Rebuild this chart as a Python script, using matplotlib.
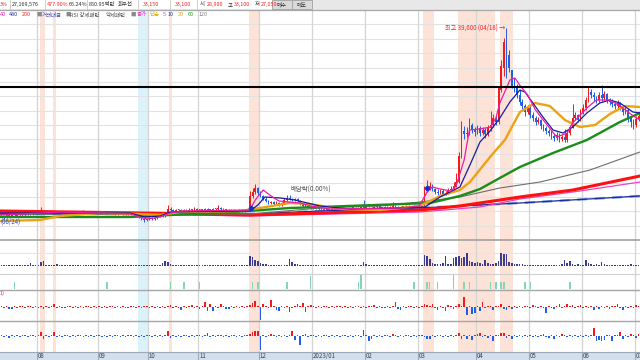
import numpy as np
import matplotlib
matplotlib.use("Agg")
import matplotlib.pyplot as plt
from matplotlib.patches import Rectangle

plt.rcParams['font.family'] = ['Noto Sans CJK KR', 'DejaVu Sans']

# ---------------- data (daily candles, price in won) ----------------
open_seg = [
    [2200,2000,1800,2200,2000,2400,2000,2200,2400,2200,2400,2600,2400,2600,2800],
    [2600,3000,2800],
    [2800,2800,2600,2800,2600,2800,2800,2600,2800,2600,2800,2800],
    [2600,2800,2800,2600,2800,2600,2600,2800,2600,2600,2800,2600],
    [2600,2600,2400,2600,2600,2400,2400,2600,2400,2400],
    [2200,1800,1400,1200],
    [1400,1600,1400,1600,2000,2200],
    [2000,2400],
    [3400,3200,3000,3200,3200,3000,3200,3000,3200,3200,3400,3200],
    [3200,3200,3400,3200,3200,3400,3400,3600,3400,3200,3200,3000],
    [3200,3000,3000,3200,3000,3200],
    [3200,6000,6800,7600],
    [6600,6000,5400,5000,4600,4800,4400,4600,4200,4600,5200,5600,5400],
    [5200,5400,5000,4400,4000,4000,3800,3600],
    [3600,3600,3400,3400,3200,3400,3200,3200,3000,3200,3400,3200],
    [3400,3400,3600,3600,3400,3600,3800,3600,3600,3400,3600,3800,4000,3600,3600,3800,3600,3800,4000,3800,3600,3800,3800,4000,3800,3800,4000],
    [4000,3800,4000,7000,7600,8000],
    [7400,6800,6600,7000,6400,6600,7200,7400,8000],
    [8800,14000,19000,18400,18600,20200],
    [19200,18800,19600,18600,19200,18400,19600,20200,21600,20800],
    [27200,31600,37200,34200,31200],
    [28000,27600,26200,24800,24000,22800,23600],
    [22200,21600,20800,21200,20000,19600,19000,18600,18000,17600,18200,17400,17800,17200],
    [18600,19800,21600,22200,21200,22800],
    [23600,25200,26800,26200,25800,25200,26200,25600,26400,25200],
    [24800,24400,24000,24600,23800,22800,23200,21600,20800,20200,21400],
]
close_seg = [
    [2000,1800,2200,2000,2400,2200,2200,2400,2200,2400,2600,2400,2600,2800,2600],
    [3200,2800,2800],
    [2800,2600,2800,2600,2800,2800,2600,2800,2600,2800,2800,2600],
    [2800,2800,2600,2800,2600,2600,2800,2600,2600,2800,2600,2600],
    [2600,2400,2600,2600,2400,2400,2600,2400,2400,2200],
    [1800,1400,1200,1400],
    [1600,1400,1600,2000,2200,2000],
    [2400,3400],
    [3200,3000,3200,3200,3000,3200,3000,3200,3200,3400,3200,3200],
    [3200,3400,3200,3200,3400,3400,3600,3400,3200,3200,3000,3200],
    [3000,3000,3200,3000,3200,3200],
    [6000,6800,7600,6600],
    [6000,5400,5000,4600,4800,4400,4600,4200,4600,5200,5600,5400,5200],
    [5400,5000,4400,4000,4000,3800,3600,3600],
    [3600,3400,3400,3200,3400,3200,3200,3000,3200,3400,3200,3400],
    [3400,3600,3600,3400,3600,3800,3600,3600,3400,3600,3800,4000,3600,3600,3800,3600,3800,4000,3800,3600,3800,3800,4000,3800,3800,4000,3800],
    [3800,4000,7000,7600,8000,7400],
    [6800,6600,7000,6400,6600,7200,7400,8000,8800],
    [14000,19000,18400,18600,20200,19200],
    [18800,19600,18600,19200,18400,19600,20200,21600,20800,27600],
    [32000,36800,30800,31600,28000],
    [27600,26200,24800,24000,22800,23600,22200],
    [21600,20800,21200,20000,19600,19000,18600,18000,17600,18200,17400,17800,17200,18600],
    [19800,21600,22200,21200,22800,23600],
    [25200,26800,26200,25800,25200,26200,25600,26400,25200,24800],
    [24400,24000,24600,23800,22800,23200,21600,20800,20200,21400,22000],
]
high_seg = [
    [2400,2200,2400,2400,2600,2600,2400,2600,2600,2600,2800,2800,2800,3000,3000],
    [3800,3200,3000],
    [3000,3000,3000,3000,3000,3000,3000,3000,3000,3000,3000,3000],
    [3000,3200,3000,3000,3000,2800,3000,3000,2800,3000,3000,2800],
    [2800,2800,2800,2800,2800,2600,2800,2800,2600,2600],
    [2400,2000,1600,1600],
    [1800,1800,1800,2200,2400,2400],
    [2600,4200],
    [3800,3400,3400,3400,3400,3400,3400,3600,3400,3800,3600,3400],
    [3400,3600,3600,3400,3600,3600,4200,3800,3600,3400,3400,3400],
    [3400,3200,3400,3400,3400,3400],
    [7000,7600,8400,7800],
    [7000,6200,5800,5200,5000,5000,5000,4800,4800,5600,6200,6200,5600],
    [5600,5600,5200,4600,4800,4200,4000,3800],
    [3800,3800,3600,3600,3600,3600,3400,3400,3400,3600,3600,3600],
    [3600,3800,3800,3800,3800,4000,5200,3800,3800,3800,4000,4200,4200,3800,4000,4000,4000,4800,4200,4000,4000,4000,4200,4200,4000,4200,4200],
    [4200,4200,8000,9200,8800,8400],
    [7600,7400,7400,7400,7000,7600,8000,8800,10600],
    [14800,21000,20000,19800,21600,20600],
    [19800,20200,20000,19800,19600,20200,23000,22400,22000,28000],
    [33200,37600,39600,35200,31200],
    [29600,28400,27200,25400,24400,24200,24000],
    [22800,22000,21800,21400,20400,20000,19400,19200,18400,18800,18600,18200,19400,19200],
    [20200,24400,22800,22400,23400,24400],
    [25800,27800,27400,26800,26000,26800,28200,27000,26600,25600],
    [25400,24800,25200,24800,24200,23800,23600,22000,21400,22000,22600],
]
low_seg = [
    [1800,1000,1600,1800,1800,2000,1800,2000,2000,2000,2200,2200,2200,2400,2400],
    [2400,2600,2600],
    [2600,2400,2400,2400,2400,2600,2400,2400,2400,2400,2600,2400],
    [2400,2600,2400,2400,2400,2400,2400,2400,2400,2400,2400,2400],
    [2400,2200,2200,2400,2200,2200,2200,2200,2200,2000],
    [1600,1200,800,1000],
    [1200,1200,1200,1400,1800,1800],
    [1800,2200],
    [3000,2800,2800,3000,2800,2800,2800,2800,3000,3000,3000,3000],
    [3000,3000,3000,3000,3000,3200,3200,3200,3000,3000,2800,2800],
    [2800,2800,2800,2800,2800,3000],
    [3000,5600,6400,6200],
    [5800,5200,4800,4400,4400,4200,4200,4000,4000,4400,5000,5200,5000],
    [5000,4800,4200,3800,3800,3600,3400,3400],
    [3400,3200,3200,3000,3000,3000,3000,2800,2800,3000,3000,3000],
    [3200,3200,3400,3200,3200,3400,3400,3400,3200,3200,3400,3600,3400,3400,3400,3400,3400,3600,3600,3400,3400,3600,3600,3600,3600,3600,3600],
    [3600,3600,3800,6800,7200,7000],
    [6400,6200,6400,6200,6200,6400,7000,7200,7800],
    [8600,13600,17400,17800,18200,18600],
    [18000,18400,18000,18200,17600,18000,19000,19800,20200,20400],
    [26800,30000,29600,30800,27600],
    [26800,25600,24200,23400,22000,22400,21600],
    [21000,20200,20400,19400,19000,18400,18000,17400,17000,17200,16800,17000,16800,16800],
    [18200,19600,21200,20800,21000,22400],
    [23200,24800,25600,25000,24600,24800,25000,25200,24600,24200],
    [23800,23400,23600,23200,22200,22400,20800,19800,19400,19800,21000],
]
volume_seg = [
    [400,500,400,300,400,400,300,400,500,400,400,1200,500,400,400],
    [1600,2000,600],
    [500,400,400,700,400,400,300,400,400,300,400,400],
    [400,300,400,400,300,400,500,400,300,400,400,300],
    [400,400,300,400,400,500,400,300,400,400],
    [400,500,400,400],
    [300,400,400,500,600,1200],
    [2000,1600],
    [800,600,500,400,400,500,400,400,600,400,400,500],
    [400,500,400,400,600,400,400,500,400,400,500,400],
    [400,400,500,400,400,400],
    [4000,3600,2400,2000],
    [1200,800,700,600,500,600,500,400,500,400,600,2800,1600],
    [1000,700,600,500,500,400,500,400],
    [400,500,400,400,500,400,400,500,400,400,500,400],
    [400,400,500,400,400,600,1600,800,500,400,400,500,400,400,400,500,400,400,500,400,400,400,500,400,400,500,600],
    [500,600,4400,4000,2800,1200],
    [800,700,1000,1200,4000,1000,800,3200,3600],
    [4000,3200,3600,5200,2000,1600],
    [1200,1600,1200,1000,2400,1200,1000,800,1200,2000],
    [5200,4800,4800,1600,1200],
    [1000,800,800,700,600,600,500],
    [600,500,500,600,500,500,600,400,500,500,600,700,2400,1200],
    [2000,800,600,700,500,600],
    [2400,1200,800,600,700,600,1600,700,600,500],
    [600,500,500,400,500,600,500,700,600,500,600],
]
open_ = np.array(sum(open_seg, []), float)
close = np.array(sum(close_seg, []), float)
high = np.array(sum(high_seg, []), float)
low = np.array(sum(low_seg, []), float)
volume = np.array(sum(volume_seg, []), float)

# pattern panel (RSI pattern signals)
pattern_days = [5, 40, 64, 69, 75, 95, 97, 108, 117, 135, 136, 156, 161, 162, 165, 171, 175, 177, 185, 187, 189, 190, 198, 200, 215]
pattern_vals = [1, 1, 1, 1, 1, 1, 1, 1, 1.85, 1, 2.4, 1, 1, 1, 1, 2.4, 1, 1, 1, 1, 1, 1, 1, 1, 1]

# lower oscillator panels (net values)
osc1 = [1,-1,1,-2,-2,1,-1,1,1,-1,
        1,1,-1,1,-1,1,-2,1,-1,1,
        3,-1,1,-1,-1,1,1,-1,1,-1,
        1,-1,1,1,-1,1,-1,1,-1,1,
        -1,1,1,-1,1,-1,1,-1,-1,1,
        1,-1,1,-1,1,1,-1,1,-1,1,
        -1,1,-1,1,2,-1,1,-1,-3,1,
        -1,1,2,-1,1,-2,1,5,-4,3,
        -4,1,-1,3,1,-2,-2,1,-1,1,
        -1,1,-1,1,2,4,6,1,-13,3,
        1,-1,7,1,-3,-4,1,-1,1,-5,
        -1,1,3,1,4,-5,1,2,1,-1,
        1,-1,1,1,-1,1,-1,1,1,-1,
        1,-1,1,-1,1,1,-1,1,-1,1,
        1,2,-1,1,-1,-1,1,-1,1,5,
        -2,-3,1,-1,1,1,-1,1,-1,1,
        3,2,1,3,-1,-3,1,-1,-4,2,
        1,-2,1,3,1,10,-8,1,-7,-6,
        1,-4,5,-1,1,1,-3,1,1,3,
        -2,-3,1,-2,1,-1,1,-1,1,1,
        -1,2,1,-1,1,-1,-6,1,-1,-2,
        1,3,-1,1,3,1,2,-1,1,2,
        -1,1,-1,1,-3,1,-2,1,-1,1,
        -2,1,1,3,-1,-3,1,-1,1,-1,
        2,1]
osc2 = [1,-1,1,-2,1,-1,1,-1,1,1,
        -1,1,1,-1,1,4,-3,1,-1,1,
        4,-1,1,-1,1,1,-1,1,-1,1,
        1,-1,1,-1,1,-1,1,1,-1,1,
        -1,1,-1,1,1,-1,1,-1,1,1,
        -1,1,-1,1,-1,1,1,-1,1,-1,
        1,-1,1,5,-2,1,-1,1,-1,1,
        1,-1,1,-1,1,1,-1,1,3,-1,
        1,-1,1,1,-1,1,-1,1,1,-1,
        1,-1,1,1,2,4,5,5,-14,1,
        -1,1,2,1,-1,1,-1,1,-1,1,
        5,-4,1,-9,1,2,-1,1,1,-1,
        1,-1,1,1,-1,1,-1,1,-1,1,
        1,-1,1,-1,1,1,-1,6,1,-5,
        -3,1,-1,1,-1,1,1,-1,2,1,
        -1,1,-1,1,1,-1,1,-1,1,1,
        -1,-3,-3,1,-1,1,1,-1,1,-1,
        1,-1,1,3,-3,1,-3,1,-4,1,
        2,3,-1,1,-2,1,-5,1,1,3,
        3,-2,1,-3,1,-1,1,-1,1,-1,
        1,-1,1,-1,1,2,-1,-2,1,-3,
        1,-1,2,1,-1,1,-1,1,-1,1,
        -1,1,-1,1,8,-5,-4,-5,-4,1,
        1,-5,1,1,4,-3,1,-1,2,1,
        -2,2]

# moving-average lines (day index, price)
ma5_x = [-0.5, 15, 22, 49, 52, 55, 60, 64, 68, 94, 96, 99, 102, 105, 109, 113, 117, 124, 151, 158, 161, 163, 166, 170, 172, 173, 175, 177, 181, 185, 187, 188.5, 191, 192.3, 194.2, 196, 199, 202, 205.5, 210, 214, 216, 221.4, 225, 230, 234, 239, 241.5]
ma5_y = [2200, 2600, 2800, 2400, 1800, 1400, 1800, 2600, 3000, 3200, 5200, 7200, 6000, 5000, 4800, 4600, 4000, 3400, 3600, 4000, 6800, 7800, 7400, 7000, 8000, 9800, 13200, 19200, 19400, 19800, 21600, 24600, 27600, 29200, 29600, 28200, 26200, 23200, 20800, 17800, 18600, 20600, 23600, 25200, 25200, 24000, 22000, 21200]
ma10_x = [-0.5, 48.7, 54.3, 60, 63.8, 94, 97, 99.7, 105.4, 111, 120.5, 131.8, 150.7, 160.2, 165.9, 173.4, 177.2, 181, 184.8, 188.5, 192.3, 196.1, 198, 201, 204.8, 208.6, 212.4, 216.1, 221.4, 226.3, 230.1, 233.9, 238.8, 241.5]
ma10_y = [2600, 2600, 1800, 2000, 2800, 3000, 4200, 5800, 5600, 5200, 4000, 3400, 3600, 3800, 5800, 7800, 12200, 16800, 19000, 21600, 24800, 27200, 26800, 24600, 21800, 19200, 18600, 19800, 22600, 24600, 25200, 24600, 22800, 22600]
ma20_x = [-0.5, 14.6, 22.2, 37.3, 52.4, 60, 67.6, 90.2, 97.8, 109.1, 116.7, 128, 143.2, 158.3, 165.9, 173.4, 177.2, 184.8, 190.4, 196.1, 201.8, 207.4, 213.1, 218.8, 224.5, 230.1, 235.8, 241.5]
ma20_y = [1000, 1200, 2000, 2600, 2400, 2200, 2800, 3000, 3600, 4600, 4400, 3400, 3200, 4000, 6000, 7200, 8800, 13800, 17200, 22800, 24600, 24000, 21200, 19800, 20200, 22400, 24000, 23800]
ma60_x = [-0.5, 48.7, 63.8, 82.7, 109.1, 120.5, 162.1, 173.4, 181, 188.5, 196.1, 208.6, 221.4, 233.9, 241.5]
ma60_y = [1800, 1800, 2200, 2600, 3600, 3800, 4600, 6000, 7400, 9600, 11800, 14600, 17200, 20800, 22600]
ma120_x = [-0.5, 56.2, 94, 120.5, 143.2, 158.3, 173.4, 188.5, 203.7, 222.6, 241.5]
ma120_y = [2400, 2400, 2400, 3600, 4000, 4800, 5800, 7600, 8800, 11200, 14800]
ma200_x = [-0.5, 52.4, 94, 120.5, 158.3, 173.4, 188.5, 196.1, 216.1, 241.5]
ma200_y = [3000, 2600, 2200, 2600, 3200, 4000, 5200, 5800, 7200, 10000]
ma240_x = [-0.5, 94, 158.3, 181, 196.1, 218.8, 241.5]
ma240_y = [2800, 2000, 2800, 3800, 5400, 7000, 8800]
ma480_x = [-0.5, 94, 120.5, 158.3, 196.1, 241.5]
ma480_y = [2400, 2400, 3000, 3600, 4600, 6000]

level_price = 27800
signal_days = [94.4, 161]
signal_prices = [3600, 7600]

month_start = [14, 37, 56, 75, 98, 118, 138, 158, 180, 200, 220, 240]
month_labels = ["08", "09", "10", "11", "12", "2023/01", "02", "03", "04", "05", "06", "07"]
salmon_spans = [(15, 16), (20, 20), (64, 64), (94, 97), (160, 163), (173, 186), (189, 193)]
cyan_spans = [(52, 55)]

# ---------------- figure ----------------
W, H = 640, 360
fig = plt.figure(figsize=(6.4, 3.6), dpi=100)
fig.patch.set_facecolor('white')
XL = (-0.5, 241.5)

def add_ax(y0, y1, x0=0, x1=640):
    a = fig.add_axes([x0 / W, 1 - y1 / H, (x1 - x0) / W, (y1 - y0) / H])
    a.set_facecolor('none')
    a.set_axis_off()
    a.set_xlim(*XL)
    return a

RED = '#f01c1c'
BLUE = '#1f5ee8'

# background: shading + grid
bg = add_ax(10, 352)
bg.set_ylim(352, 10)
for a, b in salmon_spans:
    bg.axvspan(a - 0.5, b + 0.5, color='#fde2d8', lw=0)
for a, b in cyan_spans:
    bg.axvspan(a - 0.5, b + 0.5, color='#dcf2fa', lw=0)
for k in range(1, 16):
    bg.axhline(10 + k * 14.375, color='#e2e2e2', lw=0.8)
bg.axhline(253, color='#e6e6e6', lw=0.8)
for m in month_start:
    bg.axvline(m - 0.5, color='#d4d4d4', lw=0.9)

x = np.arange(len(close))

# main price panel
ax = add_ax(10, 240)
ax.set_ylim(-2800, 43200)
up = close >= open_
cols = np.where(up, RED, BLUE)
ax.vlines(x, low, high, colors=cols, lw=0.7, zorder=2)
body_lo = np.minimum(open_, close)
body_h = np.maximum(np.abs(close - open_), 150)
ax.bar(x, body_h, bottom=body_lo, width=0.62, color=cols, lw=0, zorder=2)

ax.plot(ma480_x, ma480_y, color='#7f9fe6', lw=1.8, dashes=(4, 3), zorder=3)
ax.plot(ma480_x, ma480_y, color='#1a2a9a', lw=0.9, zorder=3)
ax.plot(ma240_x, ma240_y, color='#f040c0', lw=0.9, zorder=3)
ax.plot(ma200_x, ma200_y, color='#ff1010', lw=2.2, zorder=3)
ax.plot(ma120_x, ma120_y, color='#6e6e6e', lw=0.8, zorder=3)
ax.plot(ma60_x, ma60_y, color='#1a8c1a', lw=1.7, zorder=3)
ax.plot(ma20_x, ma20_y, color='#eda212', lw=1.7, zorder=3)
ax.plot(ma10_x, ma10_y, color='#1a1aa0', lw=0.9, zorder=4)
ax.plot(ma5_x, ma5_y, color='#f01aa8', lw=0.9, zorder=4)
ax.axhline(level_price, color='black', lw=1.5, zorder=5)
ax.plot(signal_days, signal_prices, 'P', color='#1030d0', ms=3, zorder=5)

ax.text(190.4, 39600, "최고 39,600 (04/18) →", color='#ff2020', fontsize=4.4,
        ha='right', va='center', zorder=6)
ax.text(109.3, 7200, "배당락(0.00%)", color='#505050', fontsize=4.6,
        ha='left', va='center', zorder=6)
ax.text(-0.4, 800, "(06/24)", color='#3050d0', fontsize=4.4,
        ha='left', va='center', zorder=6)

# volume panel
av = add_ax(240, 274)
av.set_ylim(-3200, 10400)
av.bar(x, volume, width=0.6, color='#3b3b8f', lw=0)

# pattern panel
ap = add_ax(274, 290)
ap.set_ylim(-0.143, 2.143)
ap.bar(pattern_days, pattern_vals, width=0.55, color='#86d3b5', lw=0)

# oscillator panels
o1 = np.array(osc1, float)
o2 = np.array(osc2, float)
a3 = add_ax(290, 321)
a3.set_ylim(-14, 17)
a3.bar(x, o1, width=0.6, color=np.where(o1 > 0, RED, BLUE), lw=0)
a4 = add_ax(321, 352)
a4.set_ylim(-16, 15)
a4.bar(x, o2, width=0.6, color=np.where(o2 > 0, RED, BLUE), lw=0)

# x-axis strip
ax_x = fig.add_axes([0, 0, 1, 8 / H])
ax_x.set_xlim(*XL)
ax_x.set_ylim(0, 1)
ax_x.set_facecolor('#d3dfec')
for s in ax_x.spines.values():
    s.set_visible(False)
ax_x.set_xticks([])
ax_x.set_yticks([])
for m, lab in zip(month_start, month_labels):
    ax_x.axvline(m - 0.5, color='#9aa8b8', lw=0.8)
    ax_x.text(m - 0.2, 0.45, lab, fontsize=4.4, color='#404040', ha='left', va='center')

# overlay: header, legend, separators
ov = fig.add_axes([0, 0, 1, 1])
ov.set_xlim(0, 640)
ov.set_ylim(360, 0)
ov.set_axis_off()
ov.set_facecolor('none')
ov.add_patch(Rectangle((0, 0), 640, 9.5, fc='#e8e8e8', ec='none'))
ov.add_patch(Rectangle((0, 0), 272, 9.2, fc='white', ec='none'))
ov.add_patch(Rectangle((272, 0), 20, 9.2, fc='#dadada', ec='#a0a0a0', lw=0.6))
ov.add_patch(Rectangle((292, 0), 20, 9.2, fc='#dadada', ec='#a0a0a0', lw=0.6))
ov.plot([0, 640], [9.7, 9.7], color='#a8a8a8', lw=0.9)
for sx in [10, 45, 87, 138, 170, 197]:
    ov.plot([sx, sx], [0, 9.2], color='#c8c8c8', lw=0.6)

hy = 4.2
hfs = 3.9
hdr = [(0, "3%", '#c03030'), (12, "27,169,576", '#303030'), (47, "477.90%", '#ff2020'),
       (69, "65.24%", '#303030'), (89, "850.95백만", '#303030'), (118, "회우선", '#303030'),
       (143, "33,150", '#ff2020'), (175, "33,100", '#ff2020'), (200, "시", '#303030'),
       (207, "28,900", '#ff2020'), (228, "고", '#303030'), (234, "33,100", '#ff2020'),
       (255, "저", '#303030'), (261, "27,050", '#ff2020'), (277, "매수", '#303030'),
       (297, "매도", '#303030')]
for hx, t, c in hdr:
    ov.text(hx, hy, t, fontsize=hfs, color=c, ha='left', va='center')

ly = 14.5
lfs = 3.9
leg = [(0, "40", '#f020c0'), (9, "480", '#2030a0'), (22, "200", '#ff2020'),
       (36, "■", '#8a8a8a'), (41.5, "거래대금", '#4040b0'), (65, "■", '#8a8a8a'),
       (70, "RSI 강세패턴", '#505050'), (106, "약세패턴", '#505050'), (130, "■", '#8a8a8a'),
       (137, "중가", '#f020c0'), (149, "단순", '#e0b000'), (163, "5", '#f020c0'),
       (168, "10", '#2030c0'), (178, "20", '#eda212'), (188, "60", '#1a9c1a'),
       (199, "120", '#808080')]
for lx, t, c in leg:
    ov.text(lx, ly, t, fontsize=lfs, color=c, ha='left', va='center')

ov.text(0, 293.5, "1)", fontsize=4.0, color='#ff3030', ha='left', va='center')

for yy, c, w in [(240, '#9a9a9a', 1.1), (274, '#d0d0d0', 0.8), (290, '#a6a6a6', 1.0),
                 (321, '#a6a6a6', 1.0), (352, '#9aa8b8', 0.8)]:
    ov.plot([0, 640], [yy, yy], color=c, lw=w)

fig.savefig('out.png', dpi=100)
